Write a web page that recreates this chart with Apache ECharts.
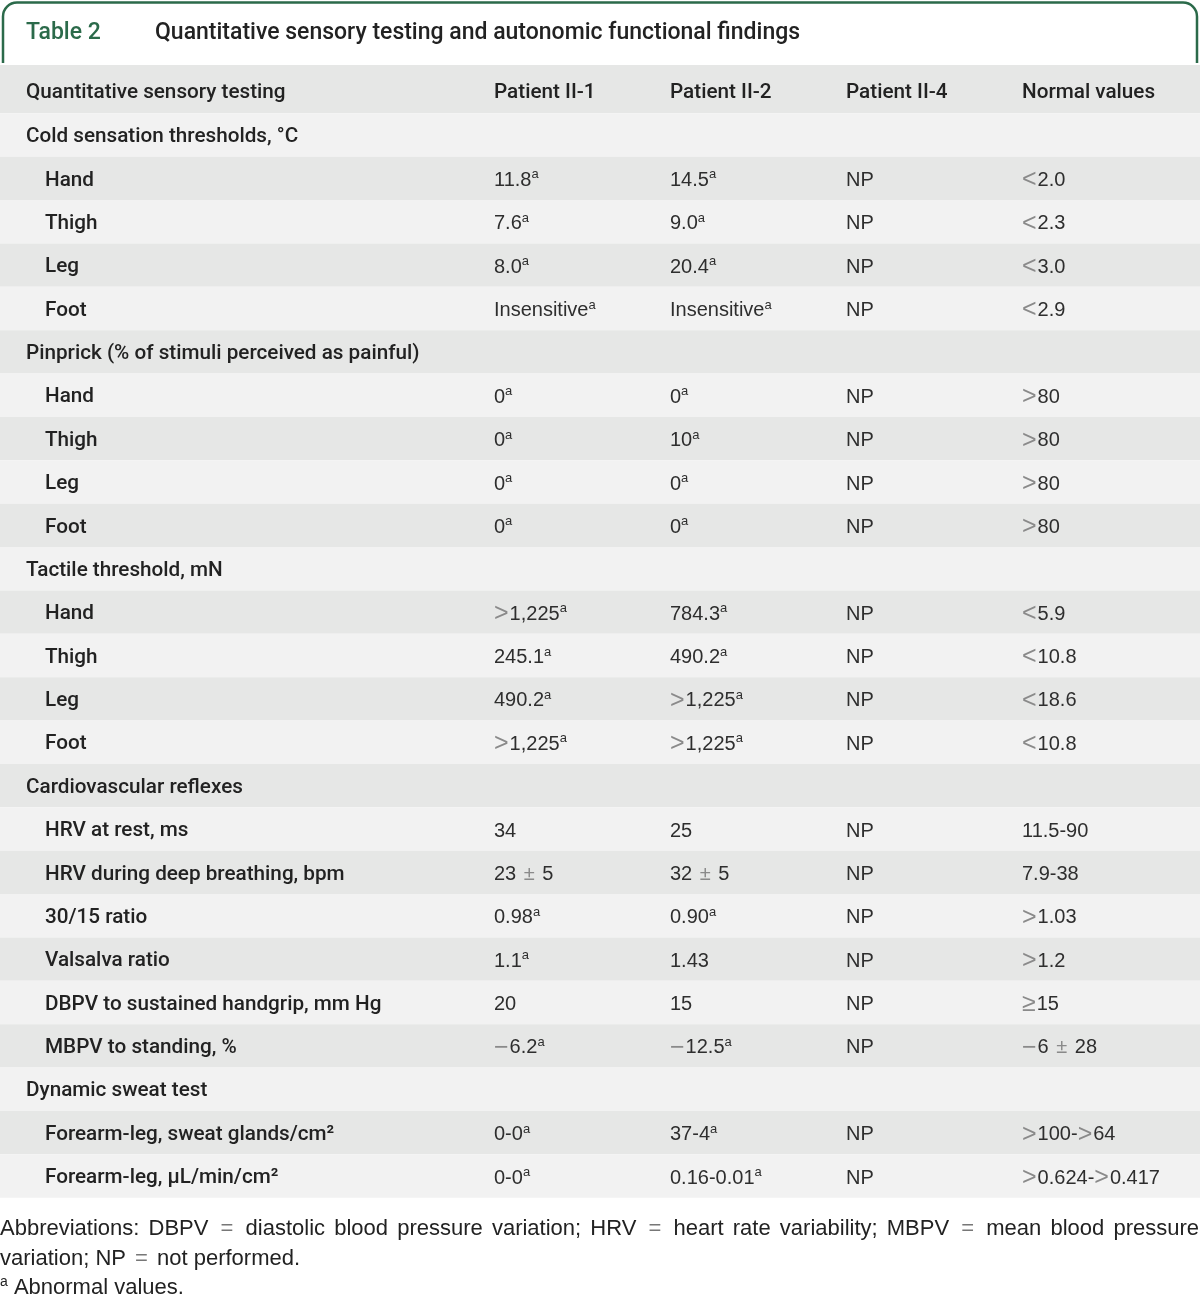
<!DOCTYPE html>
<html>
<head>
<meta charset="utf-8">
<script src="https://cdn.jsdelivr.net/npm/echarts@6/dist/echarts.min.js"></script>
<style>
html,body{margin:0;padding:0;background:#ffffff;}
#chart{width:1200px;height:1296px;}
</style>
</head>
<body>
<div id="chart"></div>
<script>
// ---------------- DATA ----------------
const tableNumber = 'Table 2';
const tableTitle = 'Quantitative sensory testing and autonomic functional findings';

const columns = ['Quantitative sensory testing', 'Patient II-1', 'Patient II-2', 'Patient II-4', 'Normal values'];

const rowLabels = [
  'Cold sensation thresholds, °C', 'Hand', 'Thigh', 'Leg', 'Foot',
  'Pinprick (% of stimuli perceived as painful)', 'Hand', 'Thigh', 'Leg', 'Foot',
  'Tactile threshold, mN', 'Hand', 'Thigh', 'Leg', 'Foot',
  'Cardiovascular reflexes', 'HRV at rest, ms', 'HRV during deep breathing, bpm', '30/15 ratio',
  'Valsalva ratio', 'DBPV to sustained handgrip, mm Hg', 'MBPV to standing, %',
  'Dynamic sweat test', 'Forearm-leg, sweat glands/cm²', 'Forearm-leg, µL/min/cm²'
];
// 0 = section heading, 1 = indented item
const rowLevels = [0,1,1,1,1, 0,1,1,1,1, 0,1,1,1,1, 0,1,1,1,1,1,1, 0,1,1];

// "*" marks superscript a (abnormal value)
const patientII1 = [
  '', '11.8*', '7.6*', '8.0*', 'Insensitive*',
  '', '0*', '0*', '0*', '0*',
  '', '>1,225*', '245.1*', '490.2*', '>1,225*',
  '', '34', '23 ± 5', '0.98*', '1.1*', '20', '−6.2*',
  '', '0-0*', '0-0*'
];
const patientII2 = [
  '', '14.5*', '9.0*', '20.4*', 'Insensitive*',
  '', '0*', '10*', '0*', '0*',
  '', '784.3*', '490.2*', '>1,225*', '>1,225*',
  '', '25', '32 ± 5', '0.90*', '1.43', '15', '−12.5*',
  '', '37-4*', '0.16-0.01*'
];
const patientII4 = [
  '', 'NP', 'NP', 'NP', 'NP',
  '', 'NP', 'NP', 'NP', 'NP',
  '', 'NP', 'NP', 'NP', 'NP',
  '', 'NP', 'NP', 'NP', 'NP', 'NP', 'NP',
  '', 'NP', 'NP'
];
const normalValues = [
  '', '<2.0', '<2.3', '<3.0', '<2.9',
  '', '>80', '>80', '>80', '>80',
  '', '<5.9', '<10.8', '<18.6', '<10.8',
  '', '11.5-90', '7.9-38', '>1.03', '>1.2', '≥15', '−6 ± 28',
  '', '>100->64', '>0.624->0.417'
];

const footnoteLine1 = 'Abbreviations: DBPV = diastolic blood pressure variation; HRV = heart rate variability; MBPV = mean blood pressure';
const footnoteLine2 = 'variation; NP = not performed.';
const footnoteLine3 = '* Abnormal values.';

// ---------------- LAYOUT / STYLE ----------------
const W = 1200;
const colLeft = [26, 494, 670, 846, 1022];
const subIndent = 19;
const FONT_VAL = '"Liberation Sans", Arial, sans-serif';
const FONT_LAB = 'Roboto, "Liberation Sans", sans-serif';
const GREEN = '#2b6a4a';
const BAND_DARK = '#e6e7e6';
const BAND_LIGHT = '#f2f2f2';
const FOOT_SIZE = 22;

const rich = {
  val: { fontFamily: FONT_VAL, fontSize: 20, fill: '#2e2e2e', lineHeight: 24 },
  sym: { fontFamily: FONT_VAL, fontSize: 25, fill: '#8a8a8a', lineHeight: 24, padding: [0, 1, 0, 0] },
  pm: { fontFamily: FONT_VAL, fontSize: 20, fill: '#8a8a8a', lineHeight: 24, padding: [0, 2, 0, 2] },
  lab: { fontFamily: FONT_LAB, fontWeight: 500, fontSize: 20.7, fill: '#222222', lineHeight: 24 },
  sup: { fontFamily: FONT_VAL, fontSize: 13, fill: '#2e2e2e', lineHeight: 12, verticalAlign: 'top' },
  foot: { fontFamily: FONT_VAL, fontSize: FOOT_SIZE, fill: '#222222', lineHeight: 26 },
  fsym: { fontFamily: FONT_VAL, fontSize: FOOT_SIZE, fill: '#777777', lineHeight: 26, padding: [0, 3, 0, 3] },
  fsup: { fontFamily: FONT_VAL, fontSize: 14, fill: '#222222', lineHeight: 14, verticalAlign: 'top' }
};

const SYMBOLS = '<>−≥=';
function toRich(str, base, symStyle, supStyle) {
  let out = '', buf = '';
  const flush = () => { if (buf) { out += '{' + base + '|' + buf + '}'; buf = ''; } };
  for (const ch of str) {
    if (ch === '*') { flush(); out += '{' + (supStyle || 'sup') + '|a}'; }
    else if (ch === '±' && symStyle !== base) { flush(); out += '{pm|±}'; }
    else if (SYMBOLS.includes(ch) && symStyle !== base) { flush(); out += '{' + symStyle + '|' + ch + '}'; }
    else buf += ch;
  }
  flush();
  return out;
}

// build cells from the named arrays
const valueColumns = [patientII1, patientII2, patientII4, normalValues];
const cellData = [];
const cellTexts = [];
rowLabels.forEach((lab, r) => {
  cellData.push([0, r]);
  cellTexts.push(toRich(lab, 'lab', 'lab'));
  valueColumns.forEach((arr, k) => {
    if (arr[r]) { cellData.push([k + 1, r]); cellTexts.push(toRich(arr[r], 'val', 'sym')); }
  });
});
const headData = columns.map((c, i) => [i, 0]);

// ---------------- FOOTNOTE (justified first line) ----------------
const measureCtx = document.createElement('canvas').getContext('2d');
measureCtx.font = FOOT_SIZE + 'px "Liberation Sans"';
function justifiedWords(line, x0, x1, y) {
  const words = line.split(' ');
  const widths = words.map(w => measureCtx.measureText(w).width + (w === '=' ? 6 : 0));
  const total = widths.reduce((a, b) => a + b, 0);
  const gap = (x1 - x0 - total) / (words.length - 1);
  const els = [];
  let x = x0;
  words.forEach((w, i) => {
    els.push({ type: 'text', x: x, y: y, silent: true, style: { text: toRich(w, 'foot', 'fsym', 'fsup'), rich: rich, verticalAlign: 'middle', align: 'left' } });
    x += widths[i] + gap;
  });
  return els;
}

const footGraphics = [].concat(
  justifiedWords(footnoteLine1, 0, 1199, 1229),
  [
    { type: 'text', x: 0, y: 1259, silent: true, style: { text: toRich(footnoteLine2, 'foot', 'fsym', 'fsup'), rich: rich, verticalAlign: 'middle', align: 'left' } },
    { type: 'text', x: 0, y: 1288, silent: true, style: { text: toRich(footnoteLine3, 'foot', 'fsym', 'fsup'), rich: rich, verticalAlign: 'middle', align: 'left' } }
  ]
);

// ---------------- CHART ----------------
const chart = echarts.init(document.getElementById('chart'), null, { renderer: 'canvas' });

function bandItem(colorFn) {
  return function (params, api) {
    const r = api.value(1);
    const pt = api.coord([0, r]);
    const h = api.size([0, 1])[1];
    const cs = params.coordSys;
    return { type: 'rect', shape: { x: cs.x, y: pt[1] - h / 2, width: cs.width, height: h }, style: { fill: colorFn(r) }, silent: true };
  };
}

const option = {
  animation: false,
  backgroundColor: '#ffffff',
  title: [
    { text: tableNumber, left: 26, top: 19, padding: 0,
      textStyle: { fontFamily: FONT_LAB, fontWeight: 500, fontSize: 23, color: GREEN, lineHeight: 28 } },
    { text: tableTitle, left: 155, top: 19, padding: 0,
      textStyle: { fontFamily: FONT_LAB, fontWeight: 500, fontSize: 23, color: '#222222', lineHeight: 28 } }
  ],
  graphic: [
    { type: 'rect', z: 0, silent: true,
      shape: { x: 3, y: 2.5, width: 1194, height: 100, r: [14, 14, 0, 0] },
      style: { fill: '#ffffff', stroke: GREEN, lineWidth: 2.5 } },
    { type: 'rect', z: 1, silent: true,
      shape: { x: 0, y: 63, width: W, height: 4 },
      style: { fill: '#ffffff' } }
  ].concat(footGraphics),
  grid: [
    { left: 0, right: 0, top: 65, height: 48.3, containLabel: false },
    { left: 0, right: 0, top: 113.3, height: 1084.4, containLabel: false }
  ],
  xAxis: [
    { gridIndex: 0, type: 'value', min: 0, max: W, show: false },
    { gridIndex: 1, type: 'value', min: 0, max: W, show: false }
  ],
  yAxis: [
    { gridIndex: 0, type: 'category', data: ['header'], show: false },
    { gridIndex: 1, type: 'category', data: rowLabels, inverse: true, show: false }
  ],
  series: [
    { type: 'custom', name: 'headerBand', xAxisIndex: 0, yAxisIndex: 0, z: 2,
      data: [[0, 0]], renderItem: bandItem(() => BAND_DARK) },
    { type: 'custom', name: 'headerText', xAxisIndex: 0, yAxisIndex: 0, z: 3,
      data: headData,
      renderItem: function (params, api) {
        const c = api.value(0);
        const pt = api.coord([colLeft[c], api.value(1)]);
        return { type: 'text', x: pt[0], y: pt[1] + 3.5, silent: true,
          style: { text: toRich(columns[c], 'lab', 'lab'), rich: rich, align: 'left', verticalAlign: 'middle' } };
      } },
    { type: 'custom', name: 'rowBands', xAxisIndex: 1, yAxisIndex: 1, z: 2,
      data: rowLabels.map((l, i) => [0, i]),
      renderItem: bandItem(r => (r % 2 === 0 ? BAND_LIGHT : BAND_DARK)) },
    { type: 'custom', name: 'cells', xAxisIndex: 1, yAxisIndex: 1, z: 3,
      data: cellData,
      renderItem: function (params, api) {
        const c = api.value(0), r = api.value(1);
        const x = colLeft[c] + (c === 0 && rowLevels[r] === 1 ? subIndent : 0);
        const pt = api.coord([x, r]);
        return { type: 'text', x: pt[0], y: pt[1] + 2, silent: true,
          style: { text: cellTexts[params.dataIndex], rich: rich, align: 'left', verticalAlign: 'middle' } };
      } }
  ]
};
chart.setOption(option);
</script>
</body>
</html>
